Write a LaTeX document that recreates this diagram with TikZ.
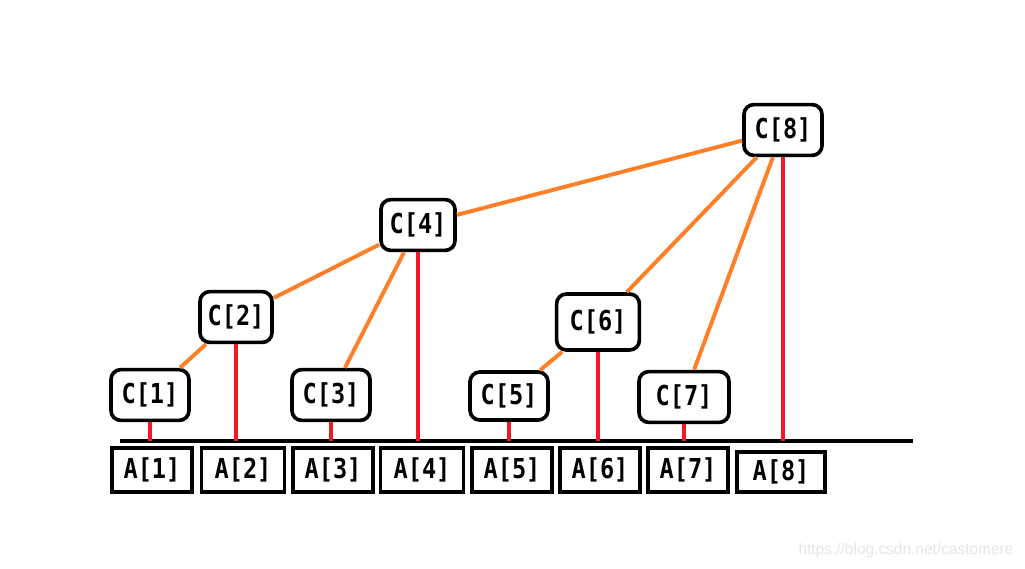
\documentclass[tikz,border=0pt]{standalone}
\usepackage{fontspec}
\setmainfont{Liberation Sans}
\setmonofont{DejaVu Sans Mono}[FakeStretch=0.86]
\definecolor{treeorange}{RGB}{255,127,39}
\definecolor{treered}{RGB}{237,28,36}
\begin{document}
\begin{tikzpicture}[x=0.025cm,y=-0.025cm,
		cbox/.style={draw,line width=2.6pt,rounded corners=7pt,fill=white,minimum width=1.95cm,minimum height=1.27cm,font=\fontsize{19.5}{22}\selectfont\ttfamily\bfseries},
		abox/.style={draw,line width=2.6pt,fill=white,minimum width=2cm,minimum height=1.1cm,font=\fontsize{19.5}{22}\selectfont\ttfamily\bfseries},
		link/.style={treeorange,line width=2.8pt},
		stem/.style={treered,line width=2.8pt}]
			\useasboundingbox (0,0) rectangle (1025,568);
			\coordinate (base) at (0,441);
			\draw[line width=2.6pt] (120,441) coordinate (left) -- (913,441) coordinate (right);
			\node[cbox] (c8) at (783,130) {C[8]};
			\node[cbox,minimum width=1.85cm] (c4) at (418,225) {C[4]};
			\node[cbox,minimum width=1.8cm] (c2) at (236,317) {C[2]};
			\node[cbox,minimum width=2.07cm,minimum height=1.4cm] (c6) at (598,322) {C[6]};
			\node[cbox] (c1) at (150,395) {C[1]};
			\node[cbox] (c3) at (331,395) {C[3]};
			\node[cbox,minimum height=1.2cm] (c5) at (509,396) {C[5]};
			\node[cbox,minimum width=2.25cm] (c7) at (684,397) {C[7]};
			\draw[link] (c1) -- (c2);
			\draw[link] (c2) -- (c4);
			\draw[link] (c3) -- (c4);
			\draw[link] (c4) -- (c8);
			\draw[link] (c5) -- (c6);
			\draw[link] (c6) -- (c8);
			\draw[link] (c7) -- (c8);
			\foreach \i in {1,...,8}
				\draw[stem] (c\i.south) -- (c\i.south |- base);
			\node[abox] (a1) at (152,470) {A[1]};
			\node[abox,minimum width=2.08cm] (a2) at (243,470) {A[2]};
			\node[abox] (a3) at (333,470) {A[3]};
			\node[abox,minimum width=2.08cm] (a4) at (422,470) {A[4]};
			\node[abox] (a5) at (512,470) {A[5]};
			\node[abox] (a6) at (600,470) {A[6]};
			\node[abox] (a7) at (688,470) {A[7]};
			\node[abox,minimum width=2.2cm,minimum height=1cm] (a8) at (781,472) {A[8]};
			\node[text=black!10,font=\fontsize{11}{13}\selectfont] (mark) at (906,550) {https://blog.csdn.net/castomere};
		\end{tikzpicture}
\end{document}
